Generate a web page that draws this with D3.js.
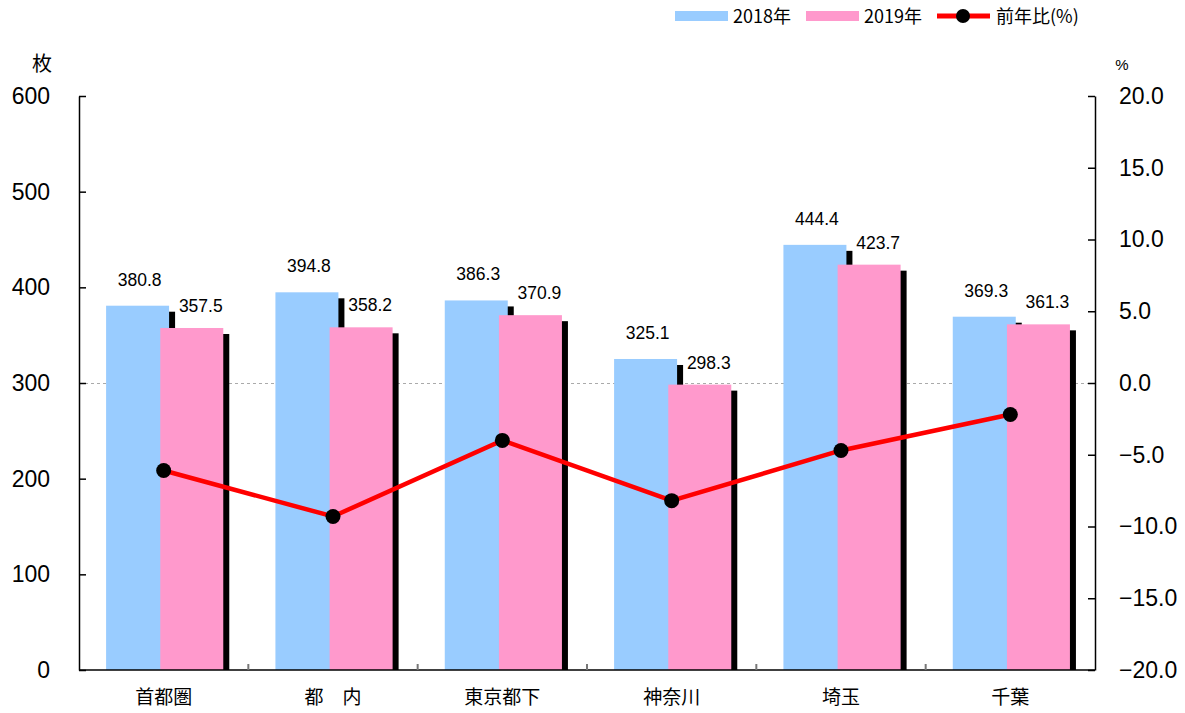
<!DOCTYPE html>
<html>
<head>
<meta charset="utf-8">
<script src="https://cdn.jsdelivr.net/npm/d3@7"></script>
<style>
  body { margin: 0; background: #fff; }
  svg { display: block; }
</style>
</head>
<body>
<div id="chart"></div>
<script>
// data
const categories = ["首都圏", "都\u3000内", "東京都下", "神奈川", "埼玉", "千葉"];
const values2018 = [380.8, 394.8, 386.3, 325.1, 444.4, 369.3];
const values2019 = [357.5, 358.2, 370.9, 298.3, 423.7, 361.3];
const yoy = [-6.1, -9.3, -4.0, -8.2, -4.7, -2.2];
const leftTicks = [0, 100, 200, 300, 400, 500, 600];
const rightTicks = [-20, -15, -10, -5, 0, 5, 10, 15, 20];

const width = 1185, height = 713;
const plot = { left: 79, right: 1095, top: 96, bottom: 670 };

const blue = "#99ccff", pink = "#ff99cc";
const jpFont = "'Noto Sans CJK JP', sans-serif";
const numFont = "'Liberation Sans', Arial, sans-serif";

const svg = d3.select("#chart").append("svg")
  .attr("width", width)
  .attr("height", height);

// scales
const x = d3.scaleBand()
  .domain(categories)
  .range([plot.left, plot.right]);

const yL = d3.scaleLinear().domain([0, 600]).range([plot.bottom, plot.top]);
const yR = d3.scaleLinear().domain([-20, 20]).range([plot.bottom, plot.top]);

const bw = x.bandwidth();
const barW = bw * 0.372;
const off18 = bw * 0.16;
const off19 = off18 + bw * 0.32;
const shadow = 6;

// dotted line at zero of right axis
svg.append("line")
  .attr("x1", plot.left).attr("x2", plot.right)
  .attr("y1", yR(0) + 0.5).attr("y2", yR(0) + 0.5)
  .attr("stroke", "#aaa")
  .attr("stroke-dasharray", "3,3")
  .attr("stroke-width", 1);

const groups = svg.append("g").selectAll("g")
  .data(categories)
  .join("g");

groups.each(function(d, i) {
  const g = d3.select(this);
  // 2018 shadow + bar
  g.append("rect")
    .attr("x", x(d) + off18 + shadow)
    .attr("y", yL(values2018[i]) + shadow)
    .attr("width", barW)
    .attr("height", plot.bottom - yL(values2018[i]) - shadow)
    .attr("fill", "#000");
  g.append("rect")
    .attr("x", x(d) + off18)
    .attr("y", yL(values2018[i]))
    .attr("width", barW)
    .attr("height", plot.bottom - yL(values2018[i]))
    .attr("fill", blue);
  // 2019 shadow + bar
  g.append("rect")
    .attr("x", x(d) + off19 + shadow)
    .attr("y", yL(values2019[i]) + shadow)
    .attr("width", barW)
    .attr("height", plot.bottom - yL(values2019[i]) - shadow)
    .attr("fill", "#000");
  g.append("rect")
    .attr("x", x(d) + off19)
    .attr("y", yL(values2019[i]))
    .attr("width", barW)
    .attr("height", plot.bottom - yL(values2019[i]))
    .attr("fill", pink);

  // value labels
  g.append("text")
    .attr("x", x(d) + off18 + barW / 2 + 2)
    .attr("y", yL(values2018[i]) - 20)
    .attr("text-anchor", "middle")
    .attr("font-family", numFont)
    .attr("font-size", 17.5)
    .text(values2018[i].toFixed(1));
  g.append("text")
    .attr("x", x(d) + off19 + barW / 2 + 9)
    .attr("y", yL(values2019[i]) - 16)
    .attr("text-anchor", "middle")
    .attr("font-family", numFont)
    .attr("font-size", 17.5)
    .text(values2019[i].toFixed(1));
});

// axes
const axisL = svg.append("g")
  .attr("transform", `translate(${plot.left},0)`)
  .call(d3.axisLeft(yL).tickValues(leftTicks).tickSizeInner(-7).tickSizeOuter(0).tickPadding(30));
const axisR = svg.append("g")
  .attr("transform", `translate(${plot.right},0)`)
  .call(d3.axisRight(yR).tickValues(rightTicks).tickSizeInner(-7).tickSizeOuter(0)
    .tickPadding(24).tickFormat(d3.format(".1f")));

[axisL, axisR].forEach(a => {
  a.select(".domain").attr("stroke", "#000").attr("stroke-width", 1.5);
  a.selectAll(".tick line").attr("stroke", "#000").attr("stroke-width", 1.5);
  a.selectAll(".tick text")
    .attr("font-family", numFont)
    .attr("font-size", 23)
    .attr("fill", "#000");
});
axisL.selectAll(".tick text").attr("x", -29);

// bottom axis: ticks at group boundaries
const axisB = svg.append("g")
  .attr("transform", `translate(0,${plot.bottom})`);
axisB.append("line")
  .attr("x1", plot.left).attr("x2", plot.right)
  .attr("stroke", "#000").attr("stroke-width", 1.5);
axisB.selectAll("line.tk")
  .data(categories.slice(1))
  .join("line")
  .attr("class", "tk")
  .attr("x1", d => x(d)).attr("x2", d => x(d))
  .attr("y1", 0).attr("y2", -6)
  .attr("stroke", "#777").attr("stroke-width", 2);
axisB.selectAll("text")
  .data(categories)
  .join("text")
  .attr("x", d => x(d) + bw / 2)
  .attr("y", 34)
  .attr("text-anchor", "middle")
  .attr("font-family", jpFont)
  .attr("font-size", 19)
  .text(d => d);

// line for 前年比
const line = d3.line()
  .x((d, i) => x(categories[i]) + bw / 2)
  .y(d => yR(d));

svg.append("path")
  .datum(yoy)
  .attr("d", line)
  .attr("fill", "none")
  .attr("stroke", "#ff0000")
  .attr("stroke-width", 4.5);

svg.append("g").selectAll("circle")
  .data(yoy)
  .join("circle")
  .attr("cx", (d, i) => x(categories[i]) + bw / 2)
  .attr("cy", d => yR(d))
  .attr("r", 7.5)
  .attr("fill", "#000");

// unit labels
svg.append("text")
  .attr("x", 42).attr("y", 71)
  .attr("text-anchor", "middle")
  .attr("font-family", jpFont)
  .attr("font-size", 20)
  .text("枚");
svg.append("text")
  .attr("x", 1122).attr("y", 70)
  .attr("text-anchor", "middle")
  .attr("font-family", numFont)
  .attr("font-size", 15)
  .text("%");

// legend
const legend = svg.append("g").attr("font-family", jpFont).attr("font-size", 18);
legend.append("rect").attr("x", 675).attr("y", 11).attr("width", 53).attr("height", 10).attr("fill", blue);
legend.append("text").attr("x", 733).attr("y", 23).text("2018年");
legend.append("rect").attr("x", 806).attr("y", 11).attr("width", 53).attr("height", 10).attr("fill", pink);
legend.append("text").attr("x", 864).attr("y", 23).text("2019年");
legend.append("line").attr("x1", 937).attr("x2", 990).attr("y1", 16).attr("y2", 16)
  .attr("stroke", "#ff0000").attr("stroke-width", 5);
legend.append("circle").attr("cx", 963).attr("cy", 16).attr("r", 7).attr("fill", "#000");
legend.append("text").attr("x", 996).attr("y", 23).text("前年比(%)");
</script>
</body>
</html>
